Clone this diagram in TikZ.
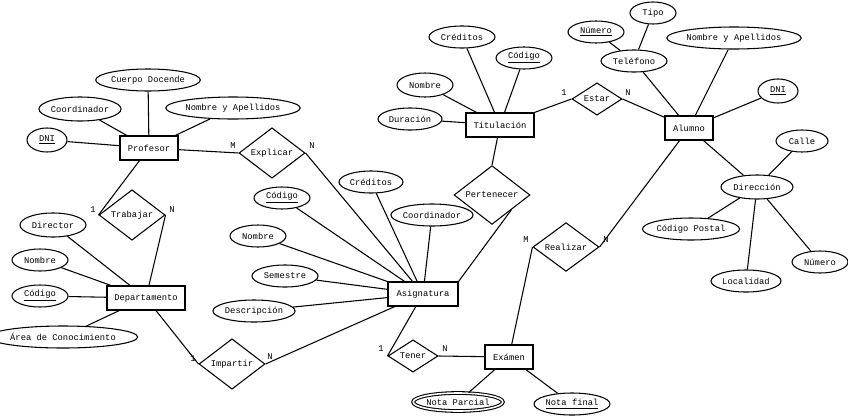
\documentclass[tikz,border=0pt]{standalone}
\usepackage{fontspec}
\setmainfont{Liberation Mono}
\usetikzlibrary{shapes.geometric, positioning}
\newcommand{\px}{0.75pt}
\tikzset{
	entity/.style={rectangle, draw, line width=0.8pt, inner sep=0pt, font=\fontsize{6.6}{7}\selectfont},
	attr/.style={ellipse, draw, line width=0.8pt, inner sep=0pt, font=\fontsize{6.6}{7}\selectfont},
	rel/.style={diamond, draw, line width=0.8pt, inner sep=0pt, font=\fontsize{6.6}{7}\selectfont},
	card/.style={inner sep=0pt, font=\fontsize{6.6}{7}\selectfont},
	link/.style={line width=0.8pt},
	sz/.style 2 args={minimum width=#1*\px, minimum height=#2*\px}
}
\newcommand{\clave}[1]{\underline{#1}}
\begin{document}
\begin{tikzpicture}[x=0.75pt, y=-0.75pt]
	\useasboundingbox (0,0) rectangle (848,418);
	
	% entidades
	\node[entity, sz={58}{24}] (prof) at (149,148) {Profesor};
	\node[entity, sz={78}{24}] (dept) at (146,298) {Departamento};
	\node[entity, sz={70}{24}] (asig) at (423,294) {Asignatura};
	\node[entity, sz={68}{24}] (titu) at (500,125) {Titulación};
	\node[entity, sz={48}{24}] (alum) at (689,128) {Alumno};
	\node[entity, sz={48}{24}] (exam) at (509,357) {Exámen};
	
	% relaciones
	\node[rel, sz={66}{38}] (expl) at (272,153) {Explicar};
	\node[rel, sz={66}{40}] (trab) at (132,215) {Trabajar};
	\node[rel, sz={66}{38}] (impa) at (232,364) {Impartir};
	\node[rel, sz={76}{44}] (pert) at (492,195) {Pertenecer};
	\node[rel, sz={50}{30}] (esta) at (597,99) {Estar};
	\node[rel, sz={66}{38}] (real) at (566,247) {Realizar};
	\node[rel, sz={50}{30}] (tene) at (413,356) {Tener};
	
	% atributos de Profesor
	\node[attr, sz={82}{24}] (pCoor) at (80,109) {Coordinador};
	\node[attr, sz={96}{22}] (pCuer) at (148,80) {Cuerpo Docende};
	\node[attr, sz={116}{22}] (pNomb) at (233,108) {Nombre y Apellidos};
	\node[attr, sz={40}{24}] (pDni) at (47,140) {\clave{DNI}};
	
	% atributos de Departamento
	\node[attr, sz={66}{24}] (dDire) at (53,225) {Director};
	\node[attr, sz={56}{22}] (dNomb) at (40,260) {Nombre};
	\node[attr, sz={56}{22}] (dCodi) at (40,296) {\clave{Código}};
	\node[attr, sz={126}{22}] (dArea) at (63,337) {Área de Conocimiento};
	
	% atributos de Asignatura
	\node[attr, sz={56}{22}] (aCodi) at (282,198) {\clave{Código}};
	\node[attr, sz={64}{22}] (aCred) at (371,182) {Créditos};
	\node[attr, sz={56}{22}] (aNomb) at (258,236) {Nombre};
	\node[attr, sz={66}{22}] (aSeme) at (285,276) {Semestre};
	\node[attr, sz={82}{22}] (aDesc) at (254,311) {Descripción};
	\node[attr, sz={80}{22}] (aCoor) at (432,215) {Coordinador};
	
	% atributos de Titulación
	\node[attr, sz={64}{22}] (tDura) at (410,119) {Duración};
	\node[attr, sz={56}{24}] (tNomb) at (425,85) {Nombre};
	\node[attr, sz={66}{22}] (tCred) at (462,37) {Créditos};
	\node[attr, sz={56}{22}] (tCodi) at (524,58) {\clave{Código}};
	
	% atributos de Alumno
	\node[attr, sz={66}{22}] (uTele) at (634,61) {Teléfono};
	\node[attr, sz={56}{22}] (uNume) at (596,32) {\clave{Número}};
	\node[attr, sz={46}{22}] (uTipo) at (653,13) {Tipo};
	\node[attr, sz={116}{22}] (uNomb) at (734,38) {Nombre y Apellidos};
	\node[attr, sz={40}{24}] (uDni) at (778,91) {\clave{DNI}};
	\node[attr, sz={72}{24}] (uDire) at (757,187) {Dirección};
	\node[attr, sz={52}{22}] (uCall) at (802,141) {Calle};
	\node[attr, sz={92}{22}] (uPost) at (691,229) {Código Postal};
	\node[attr, sz={70}{22}] (uLoca) at (746,281) {Localidad};
	\node[attr, sz={56}{22}] (uNdir) at (820,262) {Número};
	
	% atributos de Exámen
	\node[attr, double, double distance=1.2pt, sz={80}{18}] (eParc) at (458,402) {Nota Parcial};
	\node[attr, sz={76}{22}] (eFina) at (572,404) {\clave{Nota final}};
	
	% enlaces de atributos
	\foreach \a/\b in {pCoor/prof, pCuer/prof, pNomb/prof, pDni/prof,
		dDire/dept, dNomb/dept, dCodi/dept, dArea/dept,
		aCodi/asig, aCred/asig, aNomb/asig, aSeme/asig, aDesc/asig, aCoor/asig,
		tDura/titu, tNomb/titu, tCred/titu, tCodi/titu,
		uTele/alum, uNume/uTele, uTipo/uTele, uNomb/alum, uDni/alum, uDire/alum,
		uCall/uDire, uPost/uDire, uLoca/uDire, uNdir/uDire,
		eParc/exam, eFina/exam}
	\draw[link] (\a) -- (\b);
	
	% enlaces de relaciones
	\draw[link] (prof) -- (expl.west);
	\draw[link] (expl.east) -- (asig);
	\draw[link] (prof) -- (trab.west);
	\draw[link] (trab.east) -- (dept);
	\draw[link] (dept) -- (impa.west);
	\draw[link] (impa.east) -- (asig);
	\draw[link] (titu) -- (pert.north);
	\draw[link] (pert.south east) -- (asig.north east);
	\draw[link] (titu) -- (esta.west);
	\draw[link] (esta.east) -- (alum);
	\draw[link] (exam) -- (real.west);
	\draw[link] (real.east) -- (alum);
	\draw[link] (asig) -- (tene.west);
	\draw[link] (tene.east) -- (exam);
	
	% cardinalidades
	\node[card] (cExplM) at (233,146) {M};
	\node[card] (cExplN) at (312,146) {N};
	\node[card] (cTrab1) at (93,210) {1};
	\node[card] (cTrabN) at (172,210) {N};
	\node[card] (cImpa1) at (193,359) {1};
	\node[card] (cImpaN) at (270,357) {N};
	\node[card] (cEsta1) at (564,93) {1};
	\node[card] (cEstaN) at (628,93) {N};
	\node[card] (cRealM) at (526,240) {M};
	\node[card] (cRealN) at (606,240) {N};
	\node[card] (cTene1) at (381,349) {1};
	\node[card] (cTeneN) at (445,349) {N};
	
\end{tikzpicture}
\end{document}
